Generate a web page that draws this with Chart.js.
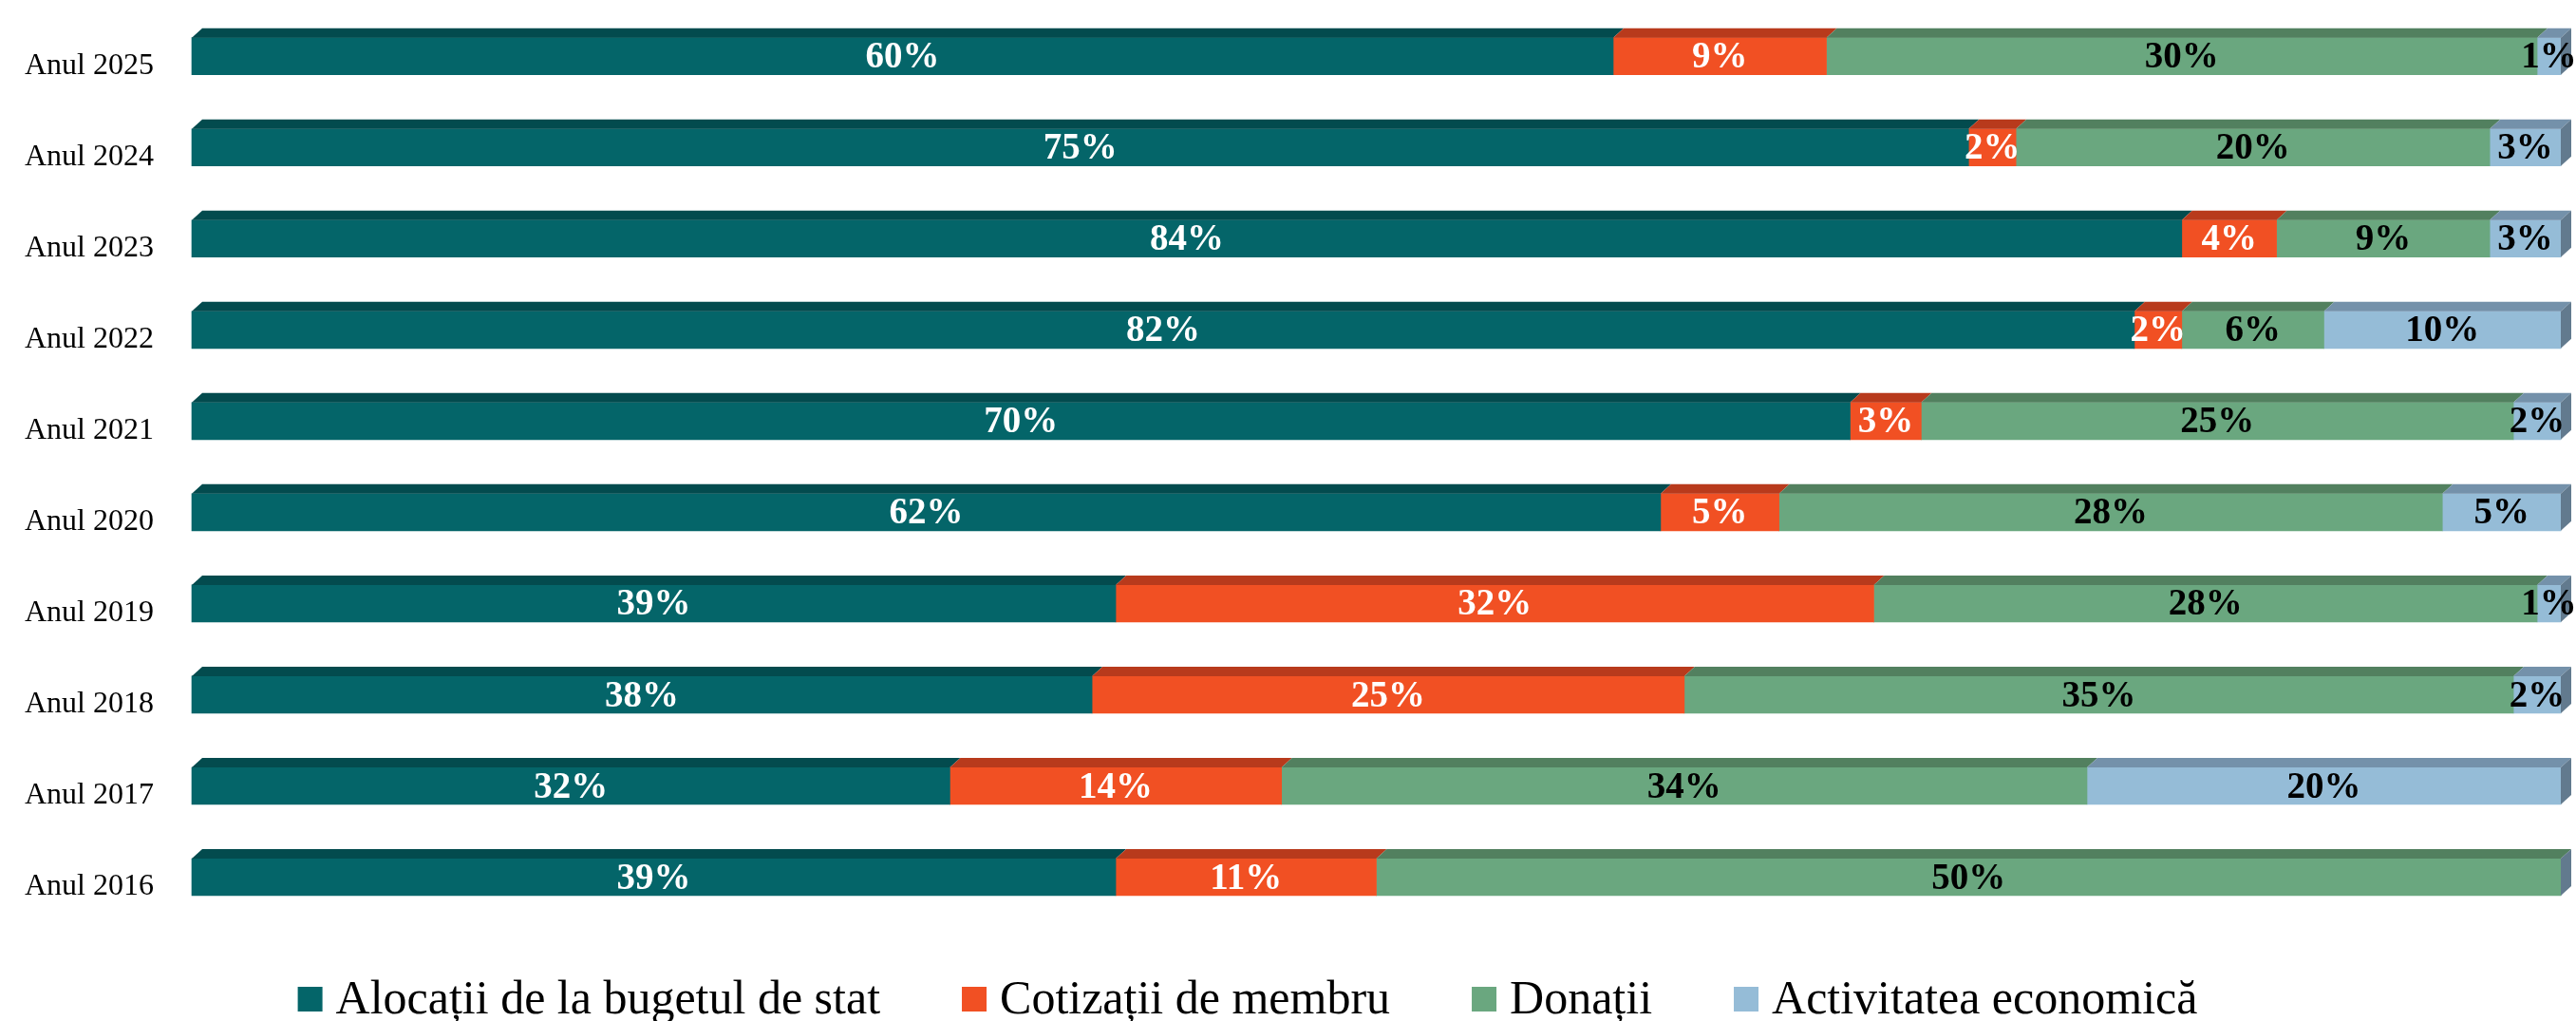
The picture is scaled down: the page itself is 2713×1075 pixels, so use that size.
<!DOCTYPE html>
<html>
<head>
<meta charset="utf-8">
<script src="https://cdn.jsdelivr.net/npm/chart.js@4"></script>
<style>
    html, body { margin: 0; padding: 0; background: #fff; }
    canvas { display: block; }
</style>
</head>
<body>
<canvas id="chart" width="2713" height="1075"></canvas>
<script>
// Categories, top to bottom
const years = ['Anul 2025', 'Anul 2024', 'Anul 2023', 'Anul 2022', 'Anul 2021',
    'Anul 2020', 'Anul 2019', 'Anul 2018', 'Anul 2017', 'Anul 2016'];

// Shares in percent for each year
const alocatii = [60, 75, 84, 82, 70, 62, 39, 38, 32, 39];
const cotizatii = [9, 2, 4, 2, 3, 5, 32, 25, 14, 11];
const donatii = [30, 20, 9, 6, 25, 28, 28, 35, 34, 50];
const activitate = [1, 3, 3, 10, 2, 5, 1, 2, 20, 0];

const seriesNames = ['Alocații de la bugetul de stat', 'Cotizații de membru', 'Donații', 'Activitatea economică'];

const COLORS = {
    TEAL: '#046569',
    TEAL_TOP: '#034B4E',
    ORANGE: '#F15023',
    ORANGE_TOP: '#B83A1C',
    GREEN: '#6AA77F',
    GREEN_TOP: '#52805F',
    BLUE: '#95BCD7',
    BLUE_TOP: '#7491AA',
    BLUE_SIDE: '#627A8E'
};

const FONT = '"Liberation Serif", "Times New Roman", serif';
const DEPTH_X = 11;
const DEPTH_Y = 10;

/**
 * Draws the top faces, the right side face and the value labels
 * so the flat bars look like the 3D bars of the original.
 */
const bar3dPlugin = {
    id: 'bar3d',
    afterDatasetsDraw(chart) {
        const ctx = chart.ctx;
        const xScale = chart.scales.x;
        const metas = chart.data.datasets.map((d, i) => chart.getDatasetMeta(i));

        ctx.save();
        // top faces
        metas.forEach((meta, di) => {
            const ds = chart.data.datasets[di];
            meta.data.forEach(el => {
                const { x, y, base, height } = el.getProps(['x', 'y', 'base', 'height'], true);
                const x1 = Math.min(x, base), x2 = Math.max(x, base);
                if (x2 - x1 < 0.5) return;
                const top = y - height / 2;
                ctx.fillStyle = ds.topColor;
                ctx.beginPath();
                ctx.moveTo(x1, top);
                ctx.lineTo(x1 + DEPTH_X, top - DEPTH_Y);
                ctx.lineTo(x2 + DEPTH_X, top - DEPTH_Y);
                ctx.lineTo(x2, top);
                ctx.closePath();
                ctx.fill();
            });
        });

        // right side face of each row
        const right = xScale.getPixelForValue(100);
        metas[0].data.forEach(el => {
            const { y, height } = el.getProps(['y', 'height'], true);
            const top = y - height / 2, bottom = y + height / 2;
            ctx.fillStyle = COLORS.BLUE_SIDE;
            ctx.beginPath();
            ctx.moveTo(right, top);
            ctx.lineTo(right + DEPTH_X, top - DEPTH_Y);
            ctx.lineTo(right + DEPTH_X, bottom - DEPTH_Y);
            ctx.lineTo(right, bottom);
            ctx.closePath();
            ctx.fill();
        });

        // value labels
        ctx.font = `bold 39px ${FONT}`;
        ctx.textAlign = 'center';
        ctx.textBaseline = 'middle';
        metas.forEach((meta, di) => {
            const ds = chart.data.datasets[di];
            meta.data.forEach((el, i) => {
                const v = ds.data[i];
                if (!v) return;
                const { x, y, base } = el.getProps(['x', 'y', 'base'], true);
                ctx.fillStyle = ds.labelColor;
                ctx.fillText(`${v}%`, (x + base) / 2, y + 2);
            });
        });
        ctx.restore();
    }
};

/**
 * Legend drawn by hand so the spacing follows the original.
 */
const legendPlugin = {
    id: 'customLegend',
    afterDraw(chart) {
        const ctx = chart.ctx;
        const box = 26, gapText = 14, gapItem = 86;
        const centerX = 1314, boxTop = 1039, baseline = 1067;

        ctx.save();
        ctx.font = `50px ${FONT}`;
        ctx.textBaseline = 'alphabetic';
        ctx.textAlign = 'left';
        const widths = chart.data.datasets.map(ds => ctx.measureText(ds.label).width);
        const total = widths.reduce((s, w) => s + box + gapText + w, 0) + gapItem * (widths.length - 1);
        let x = centerX - total / 2;

        chart.data.datasets.forEach((ds, i) => {
            ctx.fillStyle = ds.backgroundColor;
            ctx.fillRect(x, boxTop, box, box);
            ctx.fillStyle = '#000';
            ctx.fillText(ds.label, x + box + gapText, baseline);
            x += box + gapText + widths[i] + gapItem;
        });
        ctx.restore();
    }
};

const series = [alocatii, cotizatii, donatii, activitate];
const fills = [COLORS.TEAL, COLORS.ORANGE, COLORS.GREEN, COLORS.BLUE];
const tops = [COLORS.TEAL_TOP, COLORS.ORANGE_TOP, COLORS.GREEN_TOP, COLORS.BLUE_TOP];
const labelColors = ['#fff', '#fff', '#000', '#000'];

const datasets = series.map((data, i) => ({
    label: seriesNames[i],
    data: data,
    backgroundColor: fills[i],
    topColor: tops[i],
    labelColor: labelColors[i],
    borderWidth: 0,
    barThickness: 39,
    clip: false
}));

new Chart(document.getElementById('chart').getContext('2d'), {
    type: 'bar',
    data: { labels: years, datasets },
    options: {
        indexAxis: 'y',
        responsive: false,
        devicePixelRatio: 1,
        animation: false,
        layout: {
            padding: { left: 22, right: 16, top: 43.5, bottom: 151.5 }
        },
        scales: {
            x: {
                display: false,
                stacked: true,
                min: 0,
                max: 100
            },
            y: {
                stacked: true,
                offset: false,
                grid: { display: false, drawTicks: false },
                border: { display: false },
                ticks: {
                    color: '#000',
                    padding: 40,
                    labelOffset: 10,
                    font: { family: FONT, size: 32 }
                },
                afterFit: scale => { scale.width = 180; }
            }
        },
        plugins: {
            legend: { display: false },
            tooltip: { enabled: false }
        }
    },
    plugins: [bar3dPlugin, legendPlugin]
});
</script>
</body>
</html>
